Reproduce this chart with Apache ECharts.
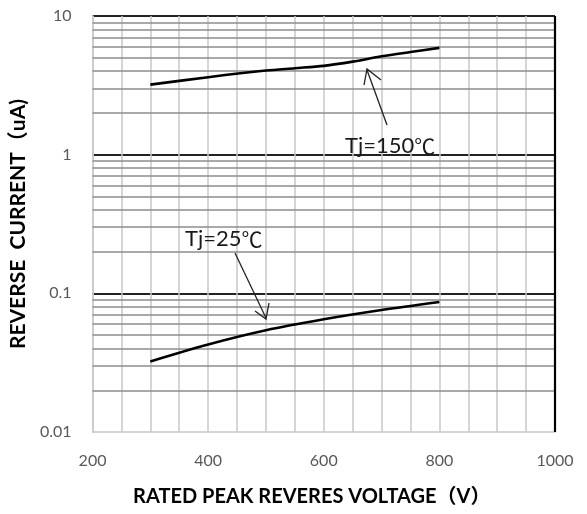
<!DOCTYPE html>
<html>
<head>
<meta charset="utf-8">
<script src="https://cdn.jsdelivr.net/npm/echarts@6/dist/echarts.min.js"></script>
<style>html,body{margin:0;padding:0;background:#fff}#c{width:587px;height:514px}</style>
</head>
<body>
<div id="c"></div>
<script>
// Data
const voltage150 = [300, 400, 500, 550, 600, 650, 700, 750, 800];
const current150 = [3.2, 3.62, 4.04, 4.2, 4.37, 4.69, 5.12, 5.5, 5.89];
const voltage25 = [300, 400, 500, 600, 700, 800];
const current25 = [0.0323, 0.0428, 0.0542, 0.065, 0.0758, 0.0866];
const minorYLines = [0.02,0.03,0.04,0.05,0.06,0.07,0.08,0.09,0.2,0.3,0.4,0.5,0.6,0.7,0.8,0.9,2,3,4,5,6,7,8,9];
const xTicks = [200, 400, 600, 800, 1000];
const yTicks = [0.01, 0.1, 1, 10];
const label150 = ['Tj=150', '℃'];
const label25 = ['Tj=25', '℃'];

const chart = echarts.init(document.getElementById('c'));
const zip = (a, b) => a.map((v, i) => [v, b[i]]);
const labelFont = 'Lato, "Noto Sans CJK SC", sans-serif';
const richStyle = {
  a: { fontFamily: 'Lato', fontSize: 22, fill: '#1a1a1a' },
  b: { fontFamily: '"Noto Sans CJK SC"', fontSize: 21, fill: '#1a1a1a' }
};

chart.setOption({
  animation: false,
  grid: { left: 91, right: 32, top: 16, bottom: 82 },
  xAxis: {
    type: 'value', min: xTicks[0], max: xTicks[xTicks.length - 1], interval: 200,
    name: 'RATED PEAK REVERES VOLTAGE（V）', nameLocation: 'middle', nameGap: 55,
    nameTextStyle: { fontFamily: labelFont, fontWeight: 'bold', fontSize: 20, color: '#000', padding: [0, 24, 0, 0] },
    axisLine: { show: true, lineStyle: { color: '#c8c8c8', width: 1.5 } },
    axisTick: { show: false },
    axisLabel: { margin: 21, fontFamily: labelFont, fontSize: 16, color: '#595959', formatter: v => String(v) },
    splitLine: { show: true, lineStyle: { color: '#c8c8c8', width: 1.5 } },
    minorTick: { show: false, splitNumber: 4 },
    minorSplitLine: { show: true, lineStyle: { color: '#c8c8c8', width: 1.5 } }
  },
  yAxis: {
    type: 'log', logBase: 10, min: yTicks[0], max: yTicks[yTicks.length - 1],
    name: 'REVERSE  CURRENT（uA)', nameLocation: 'middle', nameGap: 49,
    nameTextStyle: { fontFamily: labelFont, fontWeight: 'bold', fontSize: 21, color: '#000' },
    axisLine: { show: true, lineStyle: { color: '#c8c8c8', width: 1.5 } },
    axisTick: { show: false },
    axisLabel: { margin: 21, fontFamily: labelFont, fontSize: 16, color: '#595959' },
    splitLine: { show: true, showMinLine: false, lineStyle: { color: '#222', width: 2 } },
    minorSplitLine: { show: false }
  },
  series: [
    {
      type: 'line', data: zip(voltage150, current150), smooth: 0.3, showSymbol: false, symbol: 'none',
      lineStyle: { color: '#000', width: 2.6 }, z: 5,
      markLine: {
        silent: true, symbol: 'none', label: { show: false }, animation: false,
        lineStyle: { color: '#8c8c8c', type: 'solid', width: 1.6 },
        data: minorYLines.map(v => ({ yAxis: v })).concat([
          { xAxis: 1000, lineStyle: { color: '#000', width: 2.2 } }
        ])
      }
    },
    {
      type: 'line', data: zip(voltage25, current25), smooth: 0.3, showSymbol: false, symbol: 'none',
      lineStyle: { color: '#000', width: 2.6 }, z: 5
    }
  ],
  graphic: [
    { type: 'text', x: 345, y: 146, z: 10, style: { text: '{a|' + label150[0] + '}{b|' + label150[1] + '}', rich: richStyle, textVerticalAlign: 'middle' } },
    { type: 'text', x: 185, y: 239, z: 10, style: { text: '{a|' + label25[0] + '}{b|' + label25[1] + '}', rich: richStyle, textVerticalAlign: 'middle' } },
    { type: 'line', z: 10, shape: { x1: 387, y1: 125, x2: 367, y2: 70 }, style: { stroke: '#222', lineWidth: 1.3 } },
    { type: 'polyline', z: 10, shape: { points: [[364, 85], [367, 69], [381, 80]] }, style: { stroke: '#222', lineWidth: 1.3, fill: null } },
    { type: 'line', z: 10, shape: { x1: 235, y1: 253, x2: 266, y2: 318 }, style: { stroke: '#222', lineWidth: 1.3 } },
    { type: 'polyline', z: 10, shape: { points: [[255, 311], [266, 319], [269, 303]] }, style: { stroke: '#222', lineWidth: 1.3, fill: null } }
  ]
});
</script>
</body>
</html>
